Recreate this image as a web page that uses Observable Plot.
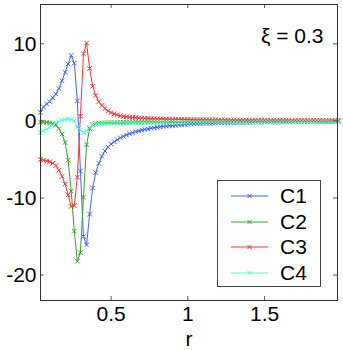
<!DOCTYPE html>
<html>
<head>
<meta charset="utf-8">
<script src="https://cdn.jsdelivr.net/npm/d3@7"></script>
<script src="https://cdn.jsdelivr.net/npm/@observablehq/plot@0.6"></script>
<style>
  html, body { margin: 0; padding: 0; background: #fff; }
  #wrap { position: relative; width: 343px; height: 350px; font-family: "Liberation Sans", Arial, sans-serif; }
  #legend { position: absolute; left: 217px; top: 180px; width: 104px; height: 107px; box-sizing: border-box;
            border: 1px solid #444; background: #fff; }
  .row { position: absolute; left: 0; height: 24px; width: 100%; }
  .row svg { position: absolute; left: 12px; top: 0; }
  .row span { position: absolute; left: 62px; top: 0px; font-size: 21px; line-height: 24px; color: #000; }
</style>
</head>
<body>
<div id="wrap"></div>
<script>
// Series names and colours
const names = ["C1", "C2", "C3", "C4"];
const colors = ["#4562ff", "#2fa52f", "#ff3030", "#55ffc8"];

// r sampling grid: 0.04, 0.06, ..., 1.98
const r = d3.range(98).map(i => Math.round((0.04 + 0.02 * i) * 100) / 100);

const c1 = [
  1.1, 1.8, 2.2, 2.5, 3.0, 3.5, 4.2, 5.2, 6.3, 7.4,
  8.5, 7.5, 2.6, -6.5, -15.0, -16.1, -12.1, -8.7, -6.7, -5.5,
  -4.6, -3.9, -3.4, -3.0, -2.7, -2.45, -2.2, -2.0, -1.82, -1.67,
  -1.53, -1.4, -1.3, -1.2, -1.11, -1.03, -0.96, -0.89, -0.83, -0.77,
  -0.72, -0.67, -0.63, -0.59, -0.55, -0.52, -0.49, -0.46, -0.43, -0.41,
  -0.39, -0.37, -0.35, -0.33, -0.31, -0.3, -0.28, -0.27, -0.26, -0.25,
  -0.24, -0.23, -0.22, -0.21, -0.2, -0.19, -0.19, -0.18, -0.17, -0.17,
  -0.16, -0.16, -0.15, -0.15, -0.14, -0.14, -0.13, -0.13, -0.13, -0.12,
  -0.12, -0.12, -0.11, -0.11, -0.11, -0.1, -0.1, -0.1, -0.1, -0.09,
  -0.09, -0.09, -0.09, -0.08, -0.08, -0.08, -0.08, -0.08
];
const c2 = [
  -0.15, -0.17, -0.2, -0.25, -0.35, -0.55, -1.0, -1.7, -2.8, -5.1,
  -9.1, -14.3, -18.2, -17.1, -9.9, -3.1, -1.0, -0.45, -0.32, -0.28,
  -0.26, -0.25, -0.24, -0.23, -0.22, -0.21, -0.2, -0.19, -0.18, -0.18,
  -0.17, -0.16, -0.16, -0.15, -0.15, -0.14, -0.14, -0.13, -0.13, -0.12,
  -0.12, -0.12, -0.11, -0.11, -0.11, -0.1, -0.1, -0.1, -0.1, -0.09,
  -0.09, -0.09, -0.09, -0.08, -0.08, -0.08, -0.08, -0.08, -0.07, -0.07,
  -0.07, -0.07, -0.07, -0.07, -0.06, -0.06, -0.06, -0.06, -0.06, -0.06,
  -0.06, -0.06, -0.06, -0.06, -0.06, -0.06, -0.05, -0.05, -0.05, -0.05,
  -0.05, -0.05, -0.05, -0.05, -0.05, -0.05, -0.05, -0.05, -0.05, -0.05,
  -0.05, -0.04, -0.04, -0.04, -0.04, -0.04, -0.04, -0.04
];
const c3 = [
  -5.0, -5.1, -5.2, -5.3, -5.5, -5.8, -6.4, -7.2, -8.2, -9.6,
  -11.1, -11.0, -7.3, 0.6, 8.7, 10.1, 6.8, 4.5, 3.3, 2.5,
  2.0, 1.6, 1.3, 1.08, 0.9, 0.77, 0.67, 0.59, 0.53, 0.48,
  0.44, 0.41, 0.38, 0.36, 0.34, 0.32, 0.3, 0.28, 0.27, 0.26,
  0.25, 0.24, 0.23, 0.22, 0.21, 0.2, 0.19, 0.19, 0.18, 0.17,
  0.17, 0.16, 0.16, 0.15, 0.15, 0.14, 0.14, 0.14, 0.13, 0.13,
  0.13, 0.12, 0.12, 0.12, 0.11, 0.11, 0.11, 0.11, 0.1, 0.1,
  0.1, 0.1, 0.1, 0.1, 0.1, 0.1, 0.09, 0.09, 0.09, 0.09,
  0.09, 0.09, 0.09, 0.09, 0.09, 0.09, 0.08, 0.08, 0.08, 0.08,
  0.08, 0.08, 0.08, 0.08, 0.08, 0.08, 0.08, 0.08
];
const c4 = [
  -1.5, -1.3, -1.05, -0.83, -0.55, -0.3, -0.1, 0.08, 0.18, 0.25,
  0.22, 0.0, -0.8, -1.25, -1.5, -1.3, -0.85, -0.55, -0.42, -0.38,
  -0.36, -0.35, -0.34, -0.33, -0.32, -0.31, -0.3, -0.29, -0.28, -0.27,
  -0.27, -0.26, -0.25, -0.25, -0.24, -0.24, -0.23, -0.23, -0.22, -0.22,
  -0.21, -0.21, -0.2, -0.2, -0.2, -0.19, -0.19, -0.18, -0.18, -0.18,
  -0.17, -0.17, -0.16, -0.16, -0.16, -0.15, -0.15, -0.15, -0.14, -0.14,
  -0.14, -0.13, -0.13, -0.13, -0.13, -0.13, -0.12, -0.12, -0.12, -0.12,
  -0.12, -0.12, -0.12, -0.11, -0.11, -0.11, -0.11, -0.11, -0.11, -0.11,
  -0.11, -0.1, -0.1, -0.1, -0.1, -0.1, -0.1, -0.1, -0.1, -0.1,
  -0.09, -0.09, -0.09, -0.09, -0.09, -0.09, -0.09, -0.09
];

const xTicks = [0.5, 1, 1.5];
const yTicks = [-20, -10, 0, 10];
const annotation = "ξ = 0.3";

const series = [c1, c2, c3, c4];
const data = series.flatMap((vals, k) => vals.map((v, i) => ({r: r[i], v, s: names[k]})));

const frameW = 343 - 40 - 6;
const frameH = 350 - 4 - 50;
const tickLen = 4;

const chart = Plot.plot({
  width: 343,
  height: 350,
  marginLeft: 40,
  marginRight: 6,
  marginTop: 4,
  marginBottom: 50,
  x: {domain: [0.04, 1.975]},
  y: {domain: [-23.3, 15.1]},
  color: {domain: names, range: colors},
  style: {fontFamily: "Liberation Sans, Arial, sans-serif", fontSize: "21px", background: "white", color: "#000"},
  marks: [
    Plot.line(data, {x: "r", y: "v", z: "s", stroke: "s", strokeWidth: 1}),
    Plot.dot(data, {x: "r", y: "v", stroke: "s", symbol: "times", r: 2.2, strokeWidth: 1}),
    Plot.ruleX(xTicks, {x: d => d, insetTop: frameH - tickLen, stroke: "#555"}),
    Plot.ruleX(xTicks, {x: d => d, insetBottom: frameH - tickLen, stroke: "#555"}),
    Plot.ruleY(yTicks, {y: d => d, insetRight: frameW - tickLen, stroke: "#555"}),
    Plot.ruleY(yTicks, {y: d => d, insetLeft: frameW - tickLen, stroke: "#555"}),
    Plot.frame({stroke: "#333"}),
    Plot.axisX({ticks: xTicks, tickSize: 0, tickPadding: 6, tickFormat: d => String(d),
                label: "r", labelAnchor: "center", labelArrow: "none", labelOffset: 45, fontSize: 21}),
    Plot.axisY({ticks: yTicks, tickSize: 0, tickPadding: 4, tickFormat: d => String(d), label: null, fontSize: 21}),
    Plot.text([annotation], {frameAnchor: "top-right", dx: -14, dy: 24, textAnchor: "end", fontSize: 21, fill: "#000"})
  ]
});

const wrap = document.getElementById("wrap");
wrap.appendChild(chart);

// Legend (overlay inside the axes, like the MATLAB legend box)
const legend = document.createElement("div");
legend.id = "legend";
names.forEach((name, k) => {
  const row = document.createElement("div");
  row.className = "row";
  row.style.top = (3 + k * 25.7) + "px";
  const svg = d3.create("svg").attr("width", 40).attr("height", 24);
  svg.append("line").attr("x1", 1).attr("x2", 38).attr("y1", 12).attr("y2", 12)
     .attr("stroke", colors[k]).attr("stroke-width", 1);
  const path = "M-2,-2L2,2M2,-2L-2,2";
  svg.append("path").attr("d", path).attr("transform", "translate(19.5,12)")
     .attr("stroke", colors[k]).attr("stroke-width", 1).attr("fill", "none");
  row.appendChild(svg.node());
  const label = document.createElement("span");
  label.textContent = name;
  row.appendChild(label);
  legend.appendChild(row);
});
wrap.appendChild(legend);
</script>
</body>
</html>
